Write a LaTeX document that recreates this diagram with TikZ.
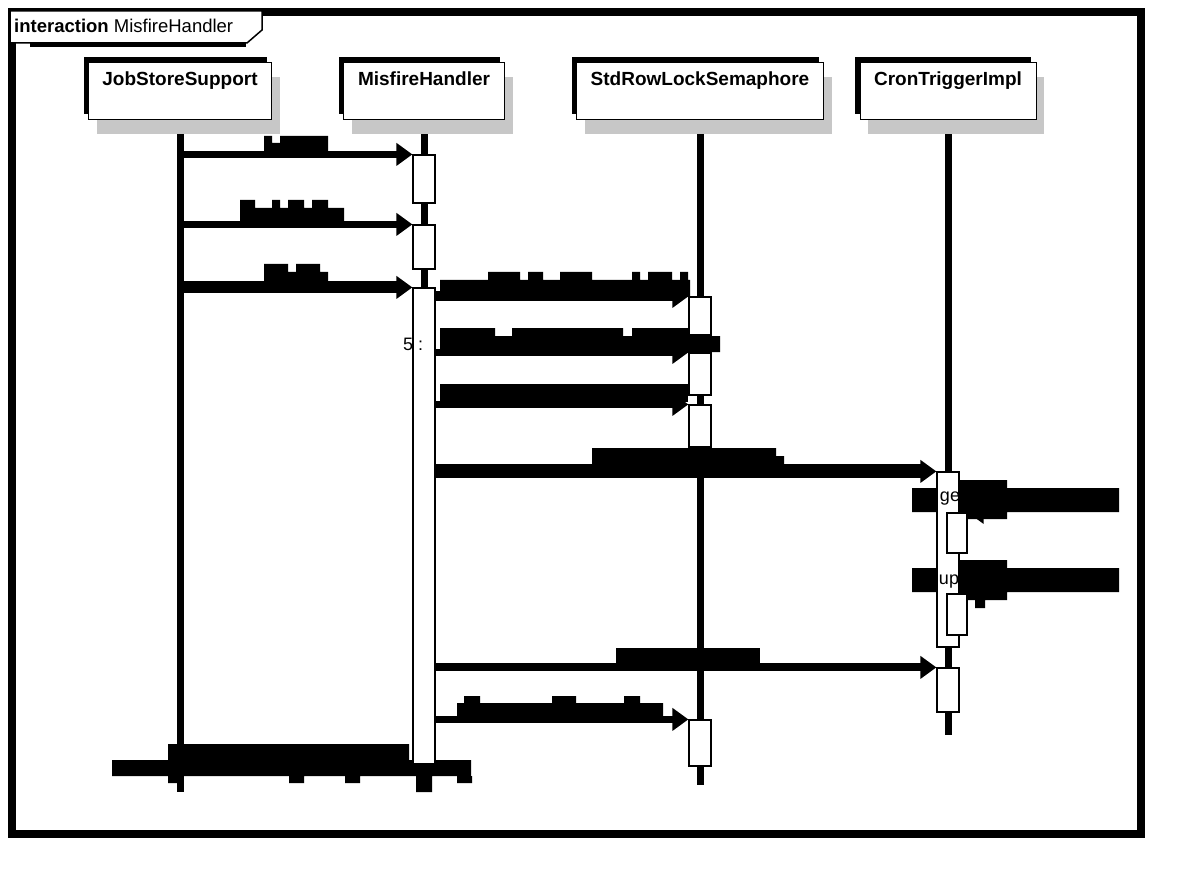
\documentclass[tikz,border=0pt]{standalone}
\usepackage{fontspec}
\setmainfont{Liberation Sans}
\usetikzlibrary{arrows.meta,shadows}
\pgfdeclarelayer{bg}
\pgfsetlayers{bg,main}

\begin{document}
\begin{tikzpicture}[x=1pt,y=-1pt,
  header/.style={draw=black,fill=white,line width=1pt,anchor=north,
    minimum height=57pt,text height=14pt,text depth=24pt,inner ysep=9.5pt,
    font=\fontsize{19}{21}\selectfont\bfseries,
    general shadow={fill=black!22,shadow xshift=8pt,shadow yshift=-15pt},
    general shadow={fill=black,shadow xshift=-5pt,shadow yshift=5pt}},
  act/.style={draw=black,fill=white,line width=1.2pt,minimum width=22pt,inner sep=0pt},
  life/.style={line width=7pt},
  msg/.style={line width=7pt,-{Triangle[length=16pt,width=22pt]}},
  ret/.style={dashed,line width=2pt,-{Straight Barb[length=10pt,width=16pt]}},
  txt/.style={inner sep=0pt,font=\fontsize{18}{20}\selectfont}]
\useasboundingbox (0,0) rectangle (1200,896);

% frame
\draw[line width=8pt] (12,12) rectangle (1141,834);
\draw[line width=4pt] (30,45) -- (246,45);
\draw[fill=white,line width=1.5pt] (10,11) -- (262,11) -- (262,30) -- (247,43) -- (10,43) -- cycle;
\node[anchor=base west,inner sep=0pt,font=\fontsize{18.5}{20}\selectfont] (title) at (14,33) {\textbf{interaction} MisfireHandler};

% lifeline heads
\node[header,minimum width=183pt] (jss) at (180,62) {JobStoreSupport};
\node[header,minimum width=161pt] (mh) at (424,62) {MisfireHandler};
\node[header,minimum width=247pt] (lock) at (700,62) {StdRowLockSemaphore};
\node[header,minimum width=176pt] (cron) at (948,62) {CronTriggerImpl};

% activations
\node[act,minimum height=48pt] (a1) at (424,179) {};
\node[act,minimum height=44pt] (a2) at (424,247) {};
\node[act,minimum height=476pt] (a3) at (424,526) {};
\node[act,minimum height=38pt] (b1) at (700,316) {};
\node[act,minimum height=42pt] (b2) at (700,374) {};
\node[act,minimum height=42pt] (b3) at (700,426) {};
\node[act,minimum height=46pt] (b4) at (700,743) {};
\node[act,minimum height=175pt] (c1) at (948,559.5) {};
\node[act,minimum width=20pt,minimum height=40pt] (c2) at (957,533) {};
\node[act,minimum width=20pt,minimum height=41pt] (c3) at (957,614.5) {};
\node[act,minimum height=44pt] (c4) at (948,690) {};

\begin{pgfonlayer}{bg}
% lifelines
\foreach \n/\e in {jss/792,mh/792,lock/785,cron/735} {
  \draw[thick,dashed] (\n.south) -- ++(0,12);
  \draw[life] ([yshift=-12pt]\n.south) -- (\n.south |- 0,\e);
}

% messages
\draw[msg] (jss |- a1.north) -- (a1.north west);
\draw[msg] (jss |- a2.north) -- (a2.north west);
\draw[msg,line width=12pt] (jss |- a3.north) -- (a3.north west);
\draw[msg,line width=10pt] (a3.east |- b1.north) -- (b1.north west);
\draw[msg] (a3.east |- b2.north) -- (b2.north west);
\draw[msg] (a3.east |- b3.north) -- (b3.north west);
\draw[msg,line width=14pt] (a3.east |- c1.north) -- (c1.north west);
\draw[msg] (c1.east |- 0,497) -- ++(40,0) |- (c2.north east);
\draw[msg] (c1.east |- 0,578) -- ++(40,0) |- (c3.north east);
\draw[msg,line width=8pt] (a3.east |- c4.north) -- (c4.north west);
\draw[msg] (a3.east |- b4.north) -- (b4.north west);
\draw[ret] (a3.south west) -- (jss |- a3.south);

% message labels (blacked out)
\fill (264,143) rectangle (328,152) (280,136) rectangle (328,143) (264,136) rectangle (272,143);
\fill (240,208) rectangle (344,224) (240,200) rectangle (255,208) (272,200) rectangle (280,208)
  (288,200) rectangle (304,208) (312,200) rectangle (328,208);
\fill (264,272) rectangle (328,282) (264,264) rectangle (288,272) (296,264) rectangle (320,272);
\fill (440,280) rectangle (690,296) (488,272) rectangle (520,280) (528,272) rectangle (543,280)
  (560,272) rectangle (592,280) (632,272) rectangle (640,280) (648,272) rectangle (672,280)
  (680,272) rectangle (688,280);
\fill (440,336) rectangle (688,352) (440,328) rectangle (495,336) (512,328) rectangle (623,336)
  (632,328) rectangle (688,336) (688,336) rectangle (720,352);
\fill (440,384) rectangle (688,402);
\fill (592,448) rectangle (776,464) (776,456) rectangle (784,464);
\fill (912,488) rectangle (1119,512) (960,480) rectangle (1007,519);
\fill (912,568) rectangle (1119,592) (960,560) rectangle (1007,600) (975,600) rectangle (985,608);
\fill (616,648) rectangle (760,664);
\fill (457,703) rectangle (663,720) (464,696) rectangle (480,703) (552,696) rectangle (576,703)
  (624,696) rectangle (640,703);
\fill (168,744) rectangle (409,760) (112,760) rectangle (471,776) (168,776) rectangle (183,783)
  (289,776) rectangle (304,783) (345,776) rectangle (360,783) (457,776) rectangle (472,783)
  (416,776) rectangle (432,792);
\end{pgfonlayer}

% visible label fragments
\node[txt,anchor=west] (n5) at (403,344) {5 :};
\node[txt] (nge) at (950,499) {ge};
\node[txt] (nup) at (949,582) {up};
\end{tikzpicture}
\end{document}
